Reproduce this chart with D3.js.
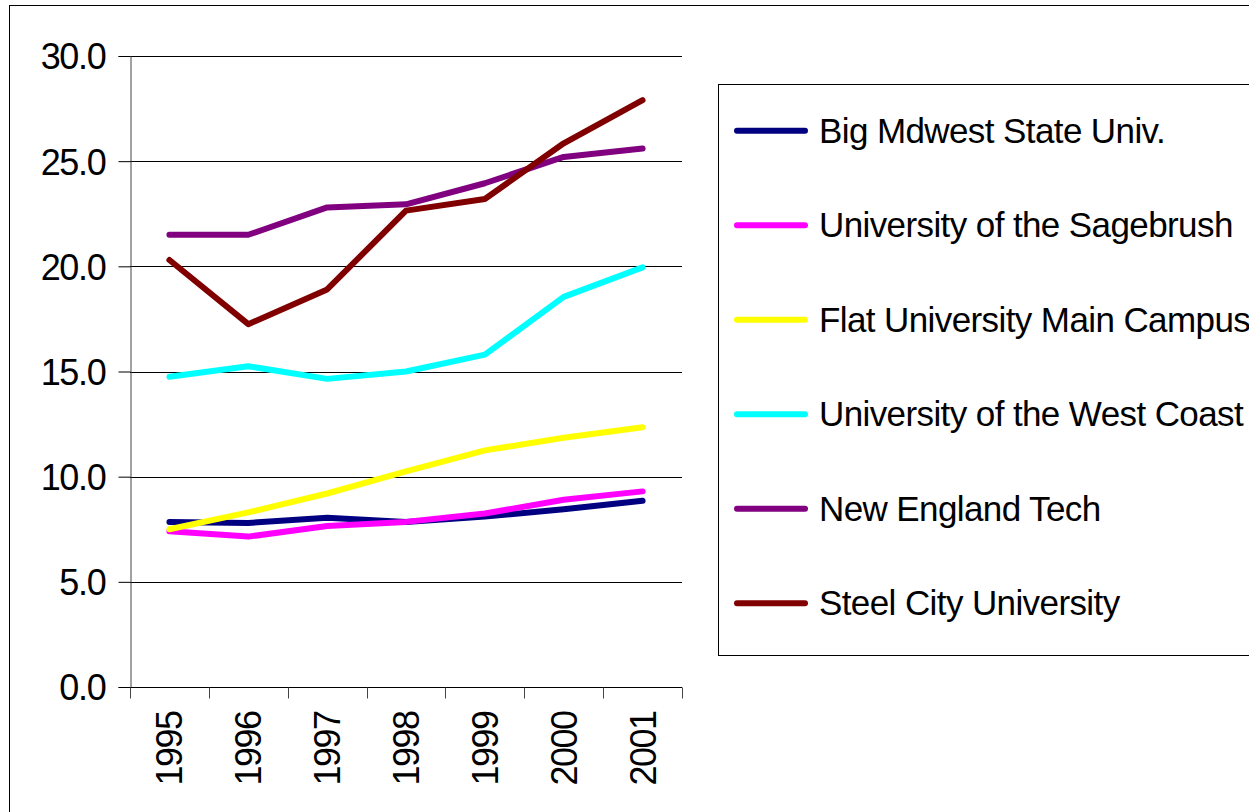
<!doctype html>
<html lang="en">
<head>
<meta charset="utf-8">
<title>Universities 1995-2001</title>
<script src="https://cdn.jsdelivr.net/npm/d3@7"></script>
<style>
  body { margin: 0; background: #fff; }
  svg text { font-family: "Liberation Sans", Arial, sans-serif; fill: #000; }
</style>
</head>
<body>
<script>
// categories and series
var years = ["1995", "1996", "1997", "1998", "1999", "2000", "2001"];
var yTicks = [0, 5, 10, 15, 20, 25, 30];

var bigMidwest   = [7.85, 7.8, 8.05, 7.85, 8.1, 8.45, 8.85];
var sagebrush    = [7.4, 7.15, 7.65, 7.85, 8.25, 8.9, 9.3];
var flatCampus   = [7.5, 8.3, 9.2, 10.25, 11.25, 11.85, 12.35];
var westCoast    = [14.75, 15.25, 14.65, 15.0, 15.8, 18.55, 19.95];
var newEngland   = [21.5, 21.5, 22.8, 22.95, 23.95, 25.2, 25.6];
var steelCity    = [20.3, 17.25, 18.9, 22.65, 23.2, 25.85, 27.9];

var names  = ["Big Mdwest State Univ.", "University of the Sagebrush", "Flat University Main Campus",
              "University of the West Coast", "New England Tech", "Steel City University"];
var colors = ["#000080", "#ff00ff", "#ffff00", "#00ffff", "#800080", "#800000"];

var series = [bigMidwest, sagebrush, flatCampus, westCoast, newEngland, steelCity].map(function(v, i) {
    return {name: names[i], color: colors[i], values: v};
});

var W = 1249, H = 812;
var svg = d3.select("body").append("svg").attr("width", W).attr("height", H);

// outer chart border (runs off the right/bottom of the window)
svg.append("rect").attr("x", 9.5).attr("y", 5.5).attr("width", W + 20).attr("height", H + 20)
    .attr("fill", "none").attr("stroke", "#000").attr("stroke-width", 1);

var plotL = 130, plotR = 682, plotT = 56, plotB = 687;

var x = d3.scaleBand().domain(years).range([plotL, plotR]);
var y = d3.scaleLinear().domain([0, 30]).range([plotB, plotT]);

// gridlines
svg.append("g").selectAll("line").data(yTicks.filter(function(d){ return d > 0; }))
    .enter().append("line")
    .attr("x1", plotL).attr("x2", plotR)
    .attr("y1", function(d){ return Math.round(y(d)) + 0.5; })
    .attr("y2", function(d){ return Math.round(y(d)) + 0.5; })
    .attr("stroke", "#000").attr("stroke-width", 1);

// y axis
var yAxis = svg.append("g").attr("transform", "translate(" + (plotL + 0.5) + ",0)")
    .call(d3.axisLeft(y).tickValues(yTicks).tickSize(12).tickPadding(13)
        .tickFormat(d3.format(".1f")));
yAxis.select(".domain").attr("stroke", "#444");
yAxis.selectAll(".tick line").attr("stroke", "#000");
yAxis.selectAll(".tick text").attr("font-size", 36).attr("letter-spacing", -1.3)
    .attr("font-family", "Liberation Sans, Arial, sans-serif")
    .attr("dy", "0.36em").attr("fill", "#000");

// x axis with ticks at band edges
var xAxis = svg.append("g").attr("transform", "translate(0," + (plotB + 0.5) + ")");
xAxis.append("line").attr("x1", plotL).attr("x2", plotR).attr("stroke", "#000");
xAxis.selectAll("line.tk").data(years.concat(["end"])).enter().append("line")
    .attr("class", "tk")
    .attr("x1", function(d, i){ return Math.round(plotL + i * x.bandwidth()) + 0.5; })
    .attr("x2", function(d, i){ return Math.round(plotL + i * x.bandwidth()) + 0.5; })
    .attr("y1", 0).attr("y2", 11).attr("stroke", "#444");
xAxis.selectAll("text").data(years).enter().append("text")
    .attr("transform", function(d){
        return "translate(" + (x(d) + x.bandwidth() / 2 + 13) + ",24) rotate(-90)";
    })
    .attr("text-anchor", "end").attr("font-size", 36).attr("letter-spacing", -1.5)
    .text(function(d){ return d; });

// lines
var line = d3.line()
    .x(function(d, i){ return x(years[i]) + x.bandwidth() / 2; })
    .y(function(d){ return y(d); });

svg.append("g").selectAll("path").data(series).enter().append("path")
    .attr("d", function(s){ return line(s.values); })
    .attr("fill", "none")
    .attr("stroke", function(s){ return s.color; })
    .attr("stroke-width", 6)
    .attr("stroke-linecap", "round")
    .attr("stroke-linejoin", "round");

// legend
var legend = svg.append("g");
legend.append("rect").attr("x", 718.5).attr("y", 84.5).attr("width", 600).attr("height", 571)
    .attr("fill", "#fff").attr("stroke", "#000");
var item = legend.selectAll("g.item").data(series).enter().append("g")
    .attr("transform", function(d, i){ return "translate(0," + (130.7 + i * 94.5) + ")"; });
item.append("line").attr("x1", 737).attr("x2", 805).attr("y1", 0).attr("y2", 0)
    .attr("stroke", function(d){ return d.color; })
    .attr("stroke-width", 6).attr("stroke-linecap", "round");
item.append("text").attr("x", 819).attr("y", 12)
    .attr("font-size", 35).attr("letter-spacing", -0.6)
    .text(function(d){ return d.name; });
</script>
</body>
</html>
